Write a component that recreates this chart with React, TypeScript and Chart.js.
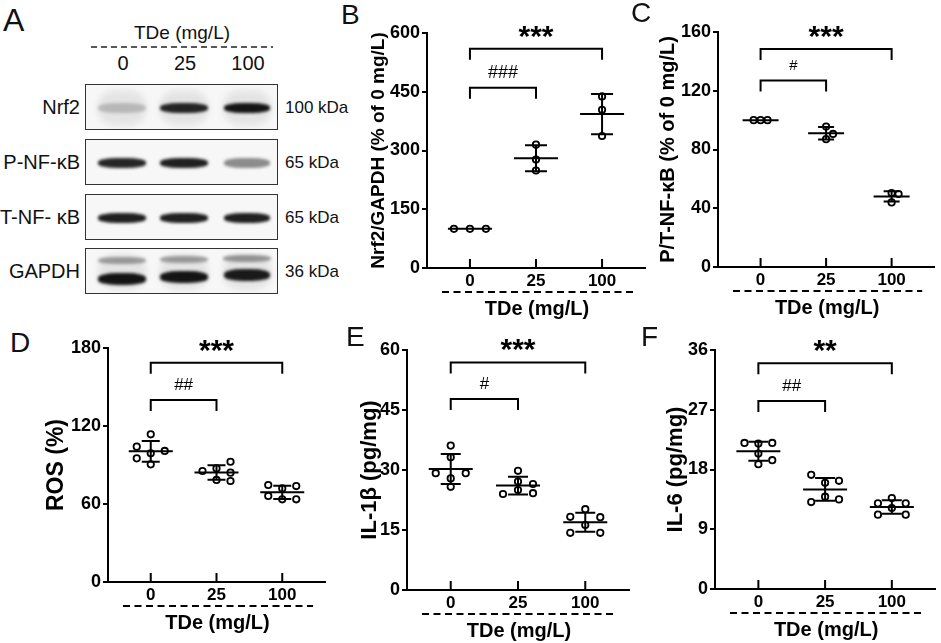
import React, { useEffect, useRef } from 'react';
import { Chart, registerables } from 'chart.js';

Chart.register(...registerables);

const FONT = '"Liberation Sans", Arial, Helvetica, sans-serif';
Chart.defaults.font.family = FONT;

// ---- data ----
const doses = ['0', '25', '100'];
const xTitle = 'TDe (mg/L)';

// B: Nrf2/GAPDH (% of 0 mg/L)
const nrf2Ctrl = [100, 100, 100];
const nrf2Low = [315, 277, 249];
const nrf2High = [438, 404, 337];
const nrf2Sig = [
  { from: 0, to: 2, y: 560, label: '***' },
  { from: 0, to: 1, y: 460, label: '###' },
];

// C: P/T-NF-kB (% of 0 mg/L)
const nfkbCtrl = [100, 100, 100];
const nfkbLow = [95.6, 90.6, 87];
const nfkbHigh = [50.4, 49.7, 44];
const nfkbSig = [
  { from: 0, to: 2, y: 148.5, label: '***' },
  { from: 0, to: 1, y: 127, label: '#' },
];

// D: ROS (%)
const rosCtrl = [113.6, 99, 100.8, 104.1, 95.1, 90.5];
const rosLow = [87.4, 84.1, 85.4, 92.5, 78.5, 77.7];
const rosHigh = [72, 73.8, 74.6, 63.6, 63.6, 66.2];
const rosSig = [
  { from: 0, to: 2, y: 168.7, label: '***' },
  { from: 0, to: 1, y: 140, label: '##' },
];

// E: IL-1β (pg/mg)
const il1bCtrl = [36.1, 33.2, 27.9, 25.8, 29.2, 29.2];
const il1bLow = [29.8, 27.1, 25, 26.5, 24.2, 24];
const il1bHigh = [20.2, 16.25, 18.2, 18.3, 14.3, 14.3];
const il1bSig = [
  { from: 0, to: 2, y: 56.9, label: '***' },
  { from: 0, to: 1, y: 47.75, label: '#' },
];

// F: IL-6 (pg/mg)
const il6Ctrl = [21.9, 22.0, 22.0, 20.4, 19.4, 18.8];
const il6Low = [16.0, 13.9, 16.3, 17.2, 13.5, 13.1];
const il6High = [13.7, 12.2, 12.9, 12.9, 11.2, 11.2];
const il6Sig = [
  { from: 0, to: 2, y: 34, label: '**' },
  { from: 0, to: 1, y: 28.3, label: '##' },
];

// A: western blot
const blotProteins = ['Nrf2', 'P-NF-κB', 'T-NF- κB', 'GAPDH'];
const blotWeights = ['100 kDa', '65 kDa', '65 kDa', '36 kDa'];
const bandDensity = [
  [0.2, 0.88, 0.95],
  [0.88, 0.9, 0.45],
  [0.9, 0.9, 0.9],
  [0.95, 0.95, 0.92],
];
const gapdhUpperBand = [0.35, 0.35, 0.38];

// ---- layout ----
const X_MIN = -0.65;
const X_MAX = 2.65;
const SWARM_GAP = 8.2;

interface Sig { from: number; to: number; y: number; label: string }
interface PanelSpec {
  letter: string;
  letterPos: [number, number];
  yTitle: string;
  titleSize: number;
  yMax: number;
  yStep: number;
  groups: number[][];
  sig: Sig[];
  area: { l: number; t: number; r: number; b: number };
  titleX: number;
  padRight: number;
  swarmStep: number;
  meanHalf: number;
  capHalf: number;
  hashSize: number;
}

const panels: PanelSpec[] = [
  {
    letter: 'B', letterPos: [341, 1], yTitle: 'Nrf2/GAPDH (% of 0 mg/L)', titleSize: 19,
    yMax: 600, yStep: 150, groups: [nrf2Ctrl, nrf2Low, nrf2High], sig: nrf2Sig,
    area: { l: 427, t: 33, r: 645, b: 268 }, titleX: 378, padRight: 8,
    swarmStep: 16, meanHalf: 22, capHalf: 11, hashSize: 18,
  },
  {
    letter: 'C', letterPos: [631, -1], yTitle: 'P/T-NF-κB (% of 0 mg/L)', titleSize: 20,
    yMax: 160, yStep: 40, groups: [nfkbCtrl, nfkbLow, nfkbHigh], sig: nfkbSig,
    area: { l: 718, t: 32, r: 936, b: 267 }, titleX: 668, padRight: 4,
    swarmStep: 7, meanHalf: 18, capHalf: 8, hashSize: 15,
  },
  {
    letter: 'D', letterPos: [10, 329], yTitle: 'ROS (%)', titleSize: 23,
    yMax: 180, yStep: 60, groups: [rosCtrl, rosLow, rosHigh], sig: rosSig,
    area: { l: 108, t: 348, r: 325, b: 582 }, titleX: 57, padRight: 8,
    swarmStep: 14, meanHalf: 22, capHalf: 9, hashSize: 17,
  },
  {
    letter: 'E', letterPos: [346, 323], yTitle: 'IL-1β (pg/mg)', titleSize: 22,
    yMax: 60, yStep: 15, groups: [il1bCtrl, il1bLow, il1bHigh], sig: il1bSig,
    area: { l: 407, t: 350, r: 629, b: 590 }, titleX: 370, padRight: 8,
    swarmStep: 15, meanHalf: 22, capHalf: 10, hashSize: 17,
  },
  {
    letter: 'F', letterPos: [641, 323], yTitle: 'IL-6 (pg/mg)', titleSize: 22,
    yMax: 36, yStep: 9, groups: [il6Ctrl, il6Low, il6High], sig: il6Sig,
    area: { l: 715, t: 350, r: 937, b: 589 }, titleX: 676, padRight: 4,
    swarmStep: 14, meanHalf: 22, capHalf: 10, hashSize: 17,
  },
];

const mean = (a: number[]) => a.reduce((s, v) => s + v, 0) / a.length;
const sd = (a: number[]) => {
  const m = mean(a);
  return Math.sqrt(a.reduce((s, v) => s + (v - m) ** 2, 0) / (a.length - 1));
};

// simple greedy beeswarm: returns a column slot per point
function swarmSlots(pix: number[], gap: number): number[] {
  const placed: { slot: number; y: number }[] = [];
  return pix.map((y) => {
    for (const slot of [0, 1, -1, 2, -2, 3, -3]) {
      if (!placed.some((p) => p.slot === slot && Math.abs(p.y - y) < gap)) {
        placed.push({ slot, y });
        return slot;
      }
    }
    return 0;
  });
}

const makeOverlay = (spec: PanelSpec) => ({
  id: 'overlay' + spec.letter,
  afterDatasetsDraw(chart: any) {
    const { ctx } = chart;
    const x = chart.scales.x;
    const y = chart.scales.y;
    ctx.save();
    ctx.strokeStyle = '#000';
    ctx.lineWidth = 2;
    spec.groups.forEach((vals, g) => {
      const m = mean(vals);
      const s = sd(vals);
      const cx = x.getPixelForValue(g);
      const ym = y.getPixelForValue(m);
      const yt = y.getPixelForValue(m + s);
      const yb = y.getPixelForValue(m - s);
      ctx.beginPath();
      ctx.moveTo(cx - spec.meanHalf, ym);
      ctx.lineTo(cx + spec.meanHalf, ym);
      if (s > 0) {
        ctx.moveTo(cx, yt);
        ctx.lineTo(cx, yb);
        ctx.moveTo(cx - spec.capHalf, yt);
        ctx.lineTo(cx + spec.capHalf, yt);
        ctx.moveTo(cx - spec.capHalf, yb);
        ctx.lineTo(cx + spec.capHalf, yb);
      }
      ctx.stroke();
    });
    ctx.restore();
  },
  afterDraw(chart: any) {
    const { ctx, chartArea } = chart;
    const x = chart.scales.x;
    const y = chart.scales.y;
    ctx.save();
    ctx.strokeStyle = '#000';
    ctx.fillStyle = '#000';
    ctx.lineWidth = 2;
    // ticks pointing into the plot
    ctx.beginPath();
    doses.forEach((_, i) => {
      const px = x.getPixelForValue(i);
      ctx.moveTo(px, chartArea.bottom);
      ctx.lineTo(px, chartArea.bottom - 9);
    });
    ctx.stroke();
    // dashed rule and axis title under the dose labels
    const ruleY = chartArea.bottom + 24;
    ctx.setLineDash([7, 4.5]);
    ctx.beginPath();
    ctx.moveTo(chartArea.left + 15, ruleY);
    ctx.lineTo(chartArea.right - 12, ruleY);
    ctx.stroke();
    ctx.setLineDash([]);
    ctx.font = `bold 20px ${FONT}`;
    ctx.textAlign = 'center';
    ctx.textBaseline = 'middle';
    ctx.fillText(xTitle, (chartArea.left + chartArea.right) / 2 + 1, chartArea.bottom + 41);
    // significance brackets
    spec.sig.forEach((br) => {
      const x0 = x.getPixelForValue(br.from);
      const x1 = x.getPixelForValue(br.to);
      const by = y.getPixelForValue(br.y);
      ctx.beginPath();
      ctx.moveTo(x0, by + 11);
      ctx.lineTo(x0, by);
      ctx.lineTo(x1, by);
      ctx.lineTo(x1, by + 11);
      ctx.stroke();
      const star = br.label.startsWith('*');
      ctx.font = star ? `bold 30px ${FONT}` : `${spec.hashSize}px ${FONT}`;
      ctx.textBaseline = 'alphabetic';
      ctx.fillText(br.label, (x0 + x1) / 2, star ? by - 3 : by - 10);
    });
    ctx.restore();
  },
});

const DotPanel: React.FC<{ spec: PanelSpec }> = ({ spec }) => {
  const canvasRef = useRef<HTMLCanvasElement | null>(null);
  const { area } = spec;
  const padTop = 25;
  const xAxisH = 55;
  const left = Math.round(spec.titleX - 2 - spec.titleSize * 0.6);
  const top = area.t - padTop;
  const width = area.r + spec.padRight - left;
  const height = area.b + xAxisH - top;
  const yWidth = area.l - left;

  useEffect(() => {
    if (!canvasRef.current) return;
    const pxY = (area.b - area.t) / spec.yMax;
    const pxX = (area.r - area.l) / (X_MAX - X_MIN);
    const points = spec.groups.flatMap((vals, g) => {
      const slots = swarmSlots(vals.map((v) => v * pxY), SWARM_GAP);
      return vals.map((v, i) => ({ x: g + (slots[i] * spec.swarmStep) / pxX, y: v }));
    });

    const chart = new Chart(canvasRef.current, {
      type: 'scatter',
      data: {
        datasets: [{
          data: points,
          pointRadius: 3.2,
          pointBorderWidth: 1.8,
          pointBorderColor: '#000',
          pointBackgroundColor: '#fff',
          showLine: false,
        }],
      },
      options: {
        animation: false,
        responsive: false,
        events: [],
        layout: { padding: { left: 0, top: padTop, right: spec.padRight, bottom: 0 } },
        plugins: { legend: { display: false }, tooltip: { enabled: false } },
        scales: {
          x: {
            type: 'linear',
            min: X_MIN,
            max: X_MAX,
            afterBuildTicks: (s: any) => { s.ticks = doses.map((_, i) => ({ value: i })); },
            afterFit: (s: any) => { s.height = xAxisH; },
            grid: { display: false, drawTicks: false },
            border: { display: true, color: '#000', width: 2 },
            ticks: {
              callback: (v: any) => doses[v] ?? '',
              font: { family: FONT, size: 17, weight: 'bold' },
              color: '#000',
              padding: 3,
              maxRotation: 0,
              autoSkip: false,
            },
          },
          y: {
            type: 'linear',
            min: 0,
            max: spec.yMax,
            afterFit: (s: any) => { s.width = yWidth; },
            ticks: {
              stepSize: spec.yStep,
              font: { family: FONT, size: 18, weight: 'bold' },
              color: '#000',
              padding: 2,
            },
            grid: { display: true, drawOnChartArea: false, drawTicks: true, tickLength: 5, color: '#000', lineWidth: 2 },
            border: { display: true, color: '#000', width: 2 },
            title: {
              display: true,
              text: spec.yTitle,
              color: '#000',
              font: { family: FONT, size: spec.titleSize, weight: 'bold' },
              padding: { top: 2, bottom: 0 },
            },
          },
        },
      },
      plugins: [makeOverlay(spec)],
    } as any);

    return () => {
      chart.destroy();
    };
  }, [spec]);

  return (
    <canvas
      ref={canvasRef}
      width={width}
      height={height}
      style={{ position: 'absolute', left, top, width, height }}
    />
  );
};

// ---- panel A ----
const BOX_LEFT = 85;
const BOX_WIDTH = 193;
const BOX_TOPS = [84, 139, 194, 248];
const BOX_HEIGHT = 46;
const LANES = [121, 183, 246];

const textAt = (x: number, y: number, size: number, align: 'left' | 'center' | 'right') => {
  const tx = align === 'center' ? '-50%' : align === 'right' ? '-100%' : '0';
  return {
    position: 'absolute' as const,
    left: x,
    top: y,
    transform: `translate(${tx}, -50%)`,
    fontSize: size,
    lineHeight: 1,
    whiteSpace: 'nowrap' as const,
    color: '#111',
  };
};

const Band: React.FC<{ cx: number; cy: number; w: number; h: number; a: number; blur?: number }> = ({ cx, cy, w, h, a, blur = 1.6 }) => (
  <div
    style={{
      position: 'absolute',
      left: cx - w / 2,
      top: cy - h / 2,
      width: w,
      height: h,
      borderRadius: '40%',
      background: `rgba(8,8,8,${a})`,
      filter: `blur(${blur}px)`,
    }}
  />
);

const Blot: React.FC = () => (
  <>
    <div style={textAt(182, 32, 19, 'center')}>TDe (mg/L)</div>
    <svg width={941} height={80} style={{ position: 'absolute', left: 0, top: 0 }}>
      <line x1={91} y1={47} x2={273} y2={47} stroke="#222" strokeWidth={1.5} strokeDasharray="6 4" />
    </svg>
    {doses.map((d, i) => (
      <div key={d} style={textAt(LANES[i] + 2, 63, 20, 'center')}>{d}</div>
    ))}
    {blotProteins.map((name, r) => {
      const top = BOX_TOPS[r];
      const cy = top + BOX_HEIGHT / 2;
      const isGapdh = r === blotProteins.length - 1;
      const hazy = r === 0 || isGapdh;
      return (
        <React.Fragment key={name}>
          <div style={textAt(80, cy, 20, 'right')}>{name}</div>
          <div style={textAt(285, cy, 17, 'left')}>{blotWeights[r]}</div>
          <div
            style={{
              position: 'absolute',
              left: BOX_LEFT,
              top,
              width: BOX_WIDTH,
              height: BOX_HEIGHT,
              boxSizing: 'border-box',
              border: '1.5px solid #333',
              background: '#f7f7f7',
              overflow: 'hidden',
            }}
          >
            {LANES.map((lx, i) => (
              <React.Fragment key={i}>
                {hazy && (
                  <Band cx={lx - BOX_LEFT} cy={BOX_HEIGHT / 2} w={48} h={36} a={0.08} blur={3} />
                )}
                {isGapdh && (
                  <Band cx={lx - BOX_LEFT} cy={BOX_HEIGHT / 2 - 12 - i} w={48} h={7} a={gapdhUpperBand[i]} />
                )}
                <Band
                  cx={lx - BOX_LEFT}
                  cy={BOX_HEIGHT / 2 + (isGapdh ? 7 - 2 * i : 0)}
                  w={i === 2 ? 46 : 48}
                  h={isGapdh ? 12 : 10}
                  a={bandDensity[r][i]}
                />
              </React.Fragment>
            ))}
          </div>
        </React.Fragment>
      );
    })}
  </>
);

export default function App() {
  return (
    <div
      style={{
        position: 'absolute',
        left: 0,
        top: 0,
        width: 941,
        height: 643,
        overflow: 'hidden',
        background: '#fff',
        fontFamily: FONT,
      }}
    >
      <Blot />
      <div style={{ position: 'absolute', left: 3, top: 4, fontSize: 32, lineHeight: 1, color: '#111' }}>A</div>
      {panels.map((p) => (
        <React.Fragment key={p.letter}>
          <DotPanel spec={p} />
          <div
            style={{
              position: 'absolute',
              left: p.letterPos[0],
              top: p.letterPos[1],
              fontSize: 28,
              lineHeight: 1,
              color: '#111',
            }}
          >
            {p.letter}
          </div>
        </React.Fragment>
      ))}
    </div>
  );
}
